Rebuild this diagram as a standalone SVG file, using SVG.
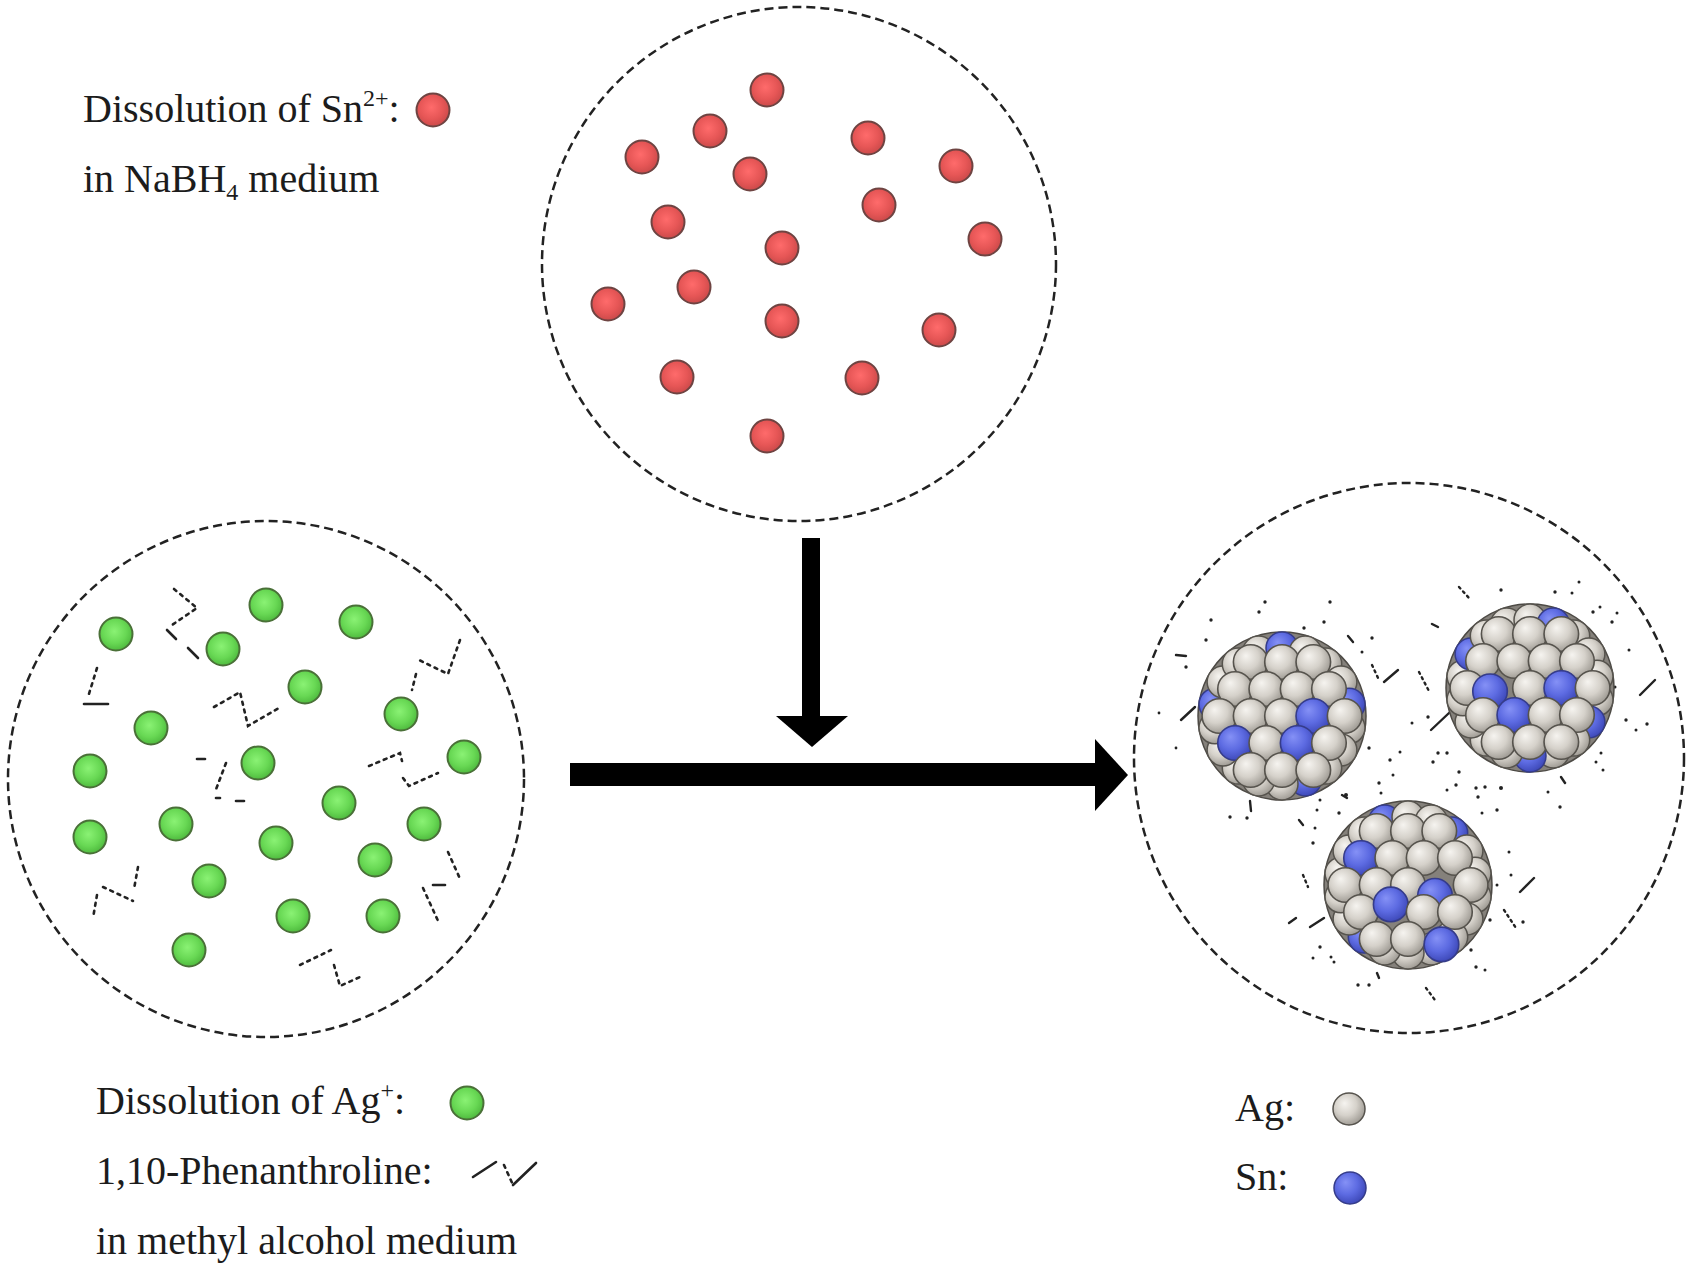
<svg xmlns="http://www.w3.org/2000/svg" xmlns:xlink="http://www.w3.org/1999/xlink" width="1694" height="1273" viewBox="0 0 1694 1273">
<style>
  .lbl { font-family: "Liberation Serif", "Times New Roman", serif; font-size: 40px; fill: #1c1c1c; }
  .sup { font-size: 24px; }
  .vessel { fill: none; stroke: #222; stroke-width: 2.5; stroke-dasharray: 9 5; }
  .zz { fill: none; stroke: #222; stroke-width: 2.6; stroke-dasharray: 3 5; stroke-linecap: round; }
  .zs { fill: none; stroke: #222; stroke-width: 2.6; stroke-linecap: round; }
  .lg { fill: none; stroke: #222; stroke-width: 2.4; stroke-linecap: round; }
  .lgd { fill: none; stroke: #222; stroke-width: 2.4; stroke-dasharray: 2 4; stroke-linecap: round; }
  .ld { fill: #222; }
  .arrow { fill: #000; }
</style>
<defs>
  <radialGradient id="gRed" cx="0.45" cy="0.42" r="0.6">
    <stop offset="0" stop-color="#ff6b6b"/>
    <stop offset="0.6" stop-color="#e65656"/>
    <stop offset="1" stop-color="#c94949"/>
  </radialGradient>
  <radialGradient id="gGreen" cx="0.45" cy="0.42" r="0.6">
    <stop offset="0" stop-color="#8af274"/>
    <stop offset="0.6" stop-color="#68d854"/>
    <stop offset="1" stop-color="#4db83d"/>
  </radialGradient>
  <radialGradient id="gAg" cx="0.42" cy="0.4" r="0.62" fx="0.36" fy="0.32">
    <stop offset="0" stop-color="#f6f4f0"/>
    <stop offset="0.55" stop-color="#d5d1ca"/>
    <stop offset="1" stop-color="#9e9a93"/>
  </radialGradient>
  <radialGradient id="gSn" cx="0.42" cy="0.4" r="0.62" fx="0.36" fy="0.32">
    <stop offset="0" stop-color="#8591f6"/>
    <stop offset="0.55" stop-color="#5d6be2"/>
    <stop offset="1" stop-color="#3d48b8"/>
  </radialGradient>
  <circle id="red" r="16.5" fill="url(#gRed)" stroke="#6e4442" stroke-width="2"/>
  <circle id="grn" r="16.5" fill="url(#gGreen)" stroke="#4a7038" stroke-width="2"/>
  <circle id="ag" r="16" fill="url(#gAg)" stroke="#56534d" stroke-width="1.5"/>
  <circle id="sn" r="16" fill="url(#gSn)" stroke="#353c8a" stroke-width="1.5"/>
</defs>

<rect width="1694" height="1273" fill="#ffffff"/>

<!-- Top vessel: Sn2+ in NaBH4 -->
<g id="sn-solution">
  <circle class="vessel" cx="799" cy="264" r="257"/>
  <use href="#red" x="767" y="90"/>
  <use href="#red" x="710" y="131"/>
  <use href="#red" x="642" y="157"/>
  <use href="#red" x="750" y="174"/>
  <use href="#red" x="868" y="138"/>
  <use href="#red" x="956" y="166"/>
  <use href="#red" x="879" y="205"/>
  <use href="#red" x="668" y="222"/>
  <use href="#red" x="985" y="239"/>
  <use href="#red" x="782" y="248"/>
  <use href="#red" x="694" y="287"/>
  <use href="#red" x="608" y="304"/>
  <use href="#red" x="782" y="321"/>
  <use href="#red" x="939" y="330"/>
  <use href="#red" x="677" y="377"/>
  <use href="#red" x="862" y="378"/>
  <use href="#red" x="767" y="436"/>
</g>

<!-- Left vessel: Ag+ with 1,10-phenanthroline in methanol -->
<g id="ag-solution">
  <circle class="vessel" cx="266" cy="779" r="258"/>
  <use href="#grn" x="116" y="634"/>
  <use href="#grn" x="266" y="605"/>
  <use href="#grn" x="356" y="622"/>
  <use href="#grn" x="223" y="649"/>
  <use href="#grn" x="305" y="687"/>
  <use href="#grn" x="151" y="728"/>
  <use href="#grn" x="401" y="714"/>
  <use href="#grn" x="90" y="771"/>
  <use href="#grn" x="258" y="763"/>
  <use href="#grn" x="464" y="757"/>
  <use href="#grn" x="339" y="803"/>
  <use href="#grn" x="90" y="837"/>
  <use href="#grn" x="176" y="824"/>
  <use href="#grn" x="276" y="843"/>
  <use href="#grn" x="424" y="824"/>
  <use href="#grn" x="375" y="860"/>
  <use href="#grn" x="209" y="881"/>
  <use href="#grn" x="293" y="916"/>
  <use href="#grn" x="383" y="916"/>
  <use href="#grn" x="189" y="950"/>
  <!-- phenanthroline fragments -->
  <polyline class="zz" points="174,589 197,608 172,625"/>
  <line class="zs" x1="167" y1="630" x2="176" y2="639"/>
  <line class="zs" x1="188" y1="648" x2="198" y2="658"/>
  <polyline class="zz" points="97,668 88,697"/>
  <line class="zs" x1="84" y1="704" x2="108" y2="704"/>
  <polyline class="zz" points="214,707 240,692 248,726 279,708"/>
  <line class="zs" x1="197" y1="759" x2="205" y2="759"/>
  <polyline class="zz" points="226,763 215,792"/>
  <line class="zs" x1="216" y1="798" x2="220" y2="798"/>
  <line class="zs" x1="236" y1="801" x2="244" y2="801"/>
  <polyline class="zz" points="460,640 448,674 417,659"/>
  <polyline class="zz" points="416,674 412,690"/>
  <polyline class="zz" points="369,766 400,753 402,761"/>
  <polyline class="zz" points="403,778 409,786 438,773"/>
  <polyline class="zz" points="448,852 461,881"/>
  <line class="zs" x1="433" y1="885" x2="445" y2="885"/>
  <polyline class="zz" points="423,888 439,923"/>
  <polyline class="zz" points="138,867 134,889"/>
  <polyline class="zz" points="103,887 133,901"/>
  <polyline class="zz" points="97,895 93,918"/>
  <polyline class="zz" points="300,965 331,950"/>
  <polyline class="zz" points="334,965 340,986 360,977"/>
</g>

<!-- Right vessel: Ag-Sn nanoparticles -->
<g id="product">
  <circle class="vessel" cx="1409" cy="758" r="275"/>
  <!-- ligand fragments -->
  <g id="ligands">
    <line class="lg" x1="1176" y1="655" x2="1186" y2="656"/>
    <line class="lg" x1="1181" y1="720" x2="1195" y2="707"/>
    <line class="lg" x1="1348" y1="636" x2="1353" y2="642"/>
    <line class="lgd" x1="1372" y1="665" x2="1379" y2="680"/>
    <line class="lg" x1="1384" y1="682" x2="1398" y2="670"/>
    <line class="lgd" x1="1419" y1="672" x2="1430" y2="693"/>
    <line class="lg" x1="1432" y1="624" x2="1438" y2="627"/>
    <line class="lgd" x1="1459" y1="587" x2="1469" y2="598"/>
    <line class="lg" x1="1640" y1="695" x2="1655" y2="680"/>
    <line class="lg" x1="1431" y1="730" x2="1449" y2="713"/>
    <line class="lg" x1="1561" y1="777" x2="1565" y2="783"/>
    <line class="lg" x1="1299" y1="820" x2="1303" y2="825"/>
    <line class="lgd" x1="1303" y1="875" x2="1308" y2="887"/>
    <line class="lg" x1="1520" y1="892" x2="1534" y2="878"/>
    <line class="lgd" x1="1504" y1="910" x2="1516" y2="928"/>
    <line class="lg" x1="1289" y1="923" x2="1296" y2="918"/>
    <line class="lg" x1="1310" y1="927" x2="1324" y2="918"/>
    <line class="lg" x1="1377" y1="973" x2="1379" y2="978"/>
    <line class="lgd" x1="1426" y1="988" x2="1435" y2="1000"/>
    <line class="lg" x1="1250" y1="801" x2="1251" y2="811"/>
    <line class="lg" x1="1342" y1="795" x2="1347" y2="798"/>
    <g class="ld">
      <circle cx="1206" cy="640" r="1.7"/><circle cx="1211" cy="620" r="1.7"/><circle cx="1186" cy="667" r="1.7"/>
      <circle cx="1159" cy="713" r="1.4"/><circle cx="1176" cy="748" r="1.4"/><circle cx="1265" cy="602" r="1.7"/>
      <circle cx="1259" cy="612" r="1.7"/><circle cx="1330" cy="602" r="1.7"/><circle cx="1324" cy="622" r="1.7"/>
      <circle cx="1304" cy="628" r="1.7"/><circle cx="1372" cy="638" r="1.7"/><circle cx="1362" cy="652" r="1.5"/>
      <circle cx="1501" cy="590" r="1.7"/><circle cx="1555" cy="592" r="1.7"/><circle cx="1572" cy="593" r="1.5"/>
      <circle cx="1579" cy="582" r="1.5"/><circle cx="1593" cy="612" r="1.7"/><circle cx="1600" cy="607" r="1.5"/>
      <circle cx="1612" cy="622" r="1.7"/><circle cx="1617" cy="613" r="1.5"/><circle cx="1629" cy="650" r="1.5"/>
      <circle cx="1615" cy="687" r="1.5"/><circle cx="1626" cy="720" r="1.7"/><circle cx="1636" cy="730" r="1.5"/>
      <circle cx="1647" cy="724" r="1.7"/><circle cx="1412" cy="723" r="1.5"/><circle cx="1428" cy="717" r="1.7"/>
      <circle cx="1369" cy="748" r="1.7"/><circle cx="1390" cy="760" r="1.7"/><circle cx="1400" cy="752" r="1.5"/>
      <circle cx="1433" cy="762" r="1.7"/><circle cx="1438" cy="753" r="1.7"/><circle cx="1447" cy="753" r="1.7"/>
      <circle cx="1459" cy="772" r="1.7"/><circle cx="1456" cy="785" r="1.7"/><circle cx="1447" cy="790" r="1.5"/>
      <circle cx="1476" cy="788" r="1.7"/><circle cx="1485" cy="787" r="1.7"/><circle cx="1501" cy="788" r="2"/>
      <circle cx="1393" cy="775" r="1.5"/><circle cx="1379" cy="783" r="1.7"/><circle cx="1381" cy="793" r="1.5"/>
      <circle cx="1478" cy="797" r="1.7"/><circle cx="1482" cy="813" r="1.5"/><circle cx="1497" cy="810" r="1.7"/>
      <circle cx="1548" cy="792" r="1.5"/><circle cx="1560" cy="807" r="1.7"/><circle cx="1596" cy="762" r="1.5"/>
      <circle cx="1601" cy="753" r="1.5"/><circle cx="1603" cy="770" r="1.5"/><circle cx="1346" cy="795" r="2"/>
      <circle cx="1320" cy="800" r="1.5"/><circle cx="1339" cy="813" r="1.7"/><circle cx="1317" cy="810" r="1.5"/>
      <circle cx="1230" cy="817" r="1.7"/><circle cx="1247" cy="818" r="1.7"/><circle cx="1313" cy="843" r="1.7"/>
      <circle cx="1315" cy="828" r="1.5"/><circle cx="1497" cy="885" r="1.5"/><circle cx="1511" cy="875" r="1.5"/>
      <circle cx="1490" cy="920" r="1.7"/><circle cx="1523" cy="922" r="1.7"/><circle cx="1320" cy="947" r="1.7"/>
      <circle cx="1313" cy="958" r="1.5"/><circle cx="1331" cy="957" r="1.5"/><circle cx="1334" cy="962" r="1.5"/>
      <circle cx="1471" cy="950" r="1.7"/><circle cx="1476" cy="967" r="1.7"/><circle cx="1485" cy="970" r="1.5"/>
      <circle cx="1358" cy="985" r="1.7"/><circle cx="1369" cy="985" r="1.7"/><circle cx="1509" cy="852" r="1.5"/>
    </g>
  </g>

  <!-- Cluster A -->
  <g id="cluster-a" transform="translate(1282,716)">
    <circle r="84" fill="#85817b" stroke="#4d4a45" stroke-width="1.5"/>
    <use href="#ag" x="67" y="11.8"/><use href="#ag" x="58.9" y="34"/><use href="#ag" x="43.7" y="52.1"/>
    <use href="#sn" x="23.3" y="63.9"/><use href="#ag" x="0" y="68"/><use href="#ag" x="-23.3" y="63.9"/>
    <use href="#ag" x="-43.7" y="52.1"/><use href="#ag" x="-58.9" y="34"/><use href="#ag" x="-67" y="11.8"/>
    <use href="#sn" x="-67" y="-11.8"/><use href="#ag" x="-58.9" y="-34"/><use href="#ag" x="-43.7" y="-52.1"/>
    <use href="#ag" x="-23.3" y="-63.9"/><use href="#sn" x="0" y="-68"/><use href="#ag" x="23.3" y="-63.9"/>
    <use href="#ag" x="43.7" y="-52.1"/><use href="#ag" x="58.9" y="-34"/><use href="#sn" x="67" y="-11.8"/>
    <g transform="scale(1.08)">
      <use href="#ag" x="-29" y="-50"/><use href="#ag" x="0" y="-50"/><use href="#ag" x="29" y="-50"/>
      <use href="#ag" x="-43.5" y="-25"/><use href="#ag" x="-14.5" y="-25"/><use href="#ag" x="14.5" y="-25"/><use href="#ag" x="43.5" y="-25"/>
      <use href="#ag" x="-58" y="0"/><use href="#ag" x="-29" y="0"/><use href="#ag" x="0" y="0"/><use href="#sn" x="29" y="0"/><use href="#ag" x="58" y="0"/>
      <use href="#sn" x="-43.5" y="25"/><use href="#ag" x="-14.5" y="25"/><use href="#sn" x="14.5" y="25"/><use href="#ag" x="43.5" y="25"/>
      <use href="#ag" x="-29" y="50"/><use href="#ag" x="0" y="50"/><use href="#ag" x="29" y="50"/>
    </g>
  </g>

  <!-- Cluster B -->
  <g id="cluster-b" transform="translate(1530,688)">
    <circle r="84" fill="#85817b" stroke="#4d4a45" stroke-width="1.5"/>
    <use href="#ag" x="67" y="11.8"/><use href="#sn" x="58.9" y="34"/><use href="#ag" x="43.7" y="52.1"/>
    <use href="#ag" x="23.3" y="63.9"/><use href="#sn" x="0" y="68"/><use href="#ag" x="-23.3" y="63.9"/>
    <use href="#ag" x="-43.7" y="52.1"/><use href="#ag" x="-58.9" y="34"/><use href="#ag" x="-67" y="11.8"/>
    <use href="#ag" x="-67" y="-11.8"/><use href="#sn" x="-58.9" y="-34"/><use href="#ag" x="-43.7" y="-52.1"/>
    <use href="#ag" x="-23.3" y="-63.9"/><use href="#ag" x="0" y="-68"/><use href="#sn" x="23.3" y="-63.9"/>
    <use href="#ag" x="43.7" y="-52.1"/><use href="#ag" x="58.9" y="-34"/><use href="#ag" x="67" y="-11.8"/>
    <g transform="scale(1.08)">
      <use href="#ag" x="-29" y="-50"/><use href="#ag" x="0" y="-50"/><use href="#ag" x="29" y="-50"/>
      <use href="#ag" x="-43.5" y="-25"/><use href="#ag" x="-14.5" y="-25"/><use href="#ag" x="14.5" y="-25"/><use href="#ag" x="43.5" y="-25"/>
      <use href="#ag" x="-58" y="0"/><use href="#sn" x="-37" y="3"/><use href="#ag" x="0" y="0"/><use href="#sn" x="29" y="0"/><use href="#ag" x="58" y="0"/>
      <use href="#ag" x="-43.5" y="25"/><use href="#sn" x="-14.5" y="25"/><use href="#ag" x="14.5" y="25"/><use href="#ag" x="43.5" y="25"/>
      <use href="#ag" x="-29" y="50"/><use href="#ag" x="0" y="50"/><use href="#ag" x="29" y="50"/>
    </g>
  </g>

  <!-- Cluster C -->
  <g id="cluster-c" transform="translate(1408,885)">
    <circle r="84" fill="#85817b" stroke="#4d4a45" stroke-width="1.5"/>
    <use href="#ag" x="67" y="11.8"/><use href="#ag" x="58.9" y="34"/><use href="#ag" x="43.7" y="52.1"/>
    <use href="#ag" x="23.3" y="63.9"/><use href="#ag" x="0" y="68"/><use href="#ag" x="-23.3" y="63.9"/>
    <use href="#sn" x="-43.7" y="52.1"/><use href="#ag" x="-58.9" y="34"/><use href="#ag" x="-67" y="11.8"/>
    <use href="#ag" x="-67" y="-11.8"/><use href="#ag" x="-58.9" y="-34"/><use href="#ag" x="-43.7" y="-52.1"/>
    <use href="#sn" x="-23.3" y="-63.9"/><use href="#ag" x="0" y="-68"/><use href="#ag" x="23.3" y="-63.9"/>
    <use href="#sn" x="43.7" y="-52.1"/><use href="#ag" x="58.9" y="-34"/><use href="#ag" x="67" y="-11.8"/>
    <g transform="scale(1.08)">
      <use href="#ag" x="-29" y="-50"/><use href="#ag" x="0" y="-50"/><use href="#ag" x="29" y="-50"/>
      <use href="#sn" x="-43.5" y="-25"/><use href="#ag" x="-14.5" y="-25"/><use href="#ag" x="14.5" y="-25"/><use href="#ag" x="43.5" y="-25"/>
      <use href="#ag" x="-58" y="0"/><use href="#ag" x="-29" y="0"/><use href="#ag" x="0" y="0"/><use href="#sn" x="25" y="10"/><use href="#ag" x="58" y="0"/>
      <use href="#ag" x="-43.5" y="25"/><use href="#sn" x="-16" y="18"/><use href="#ag" x="14.5" y="25"/><use href="#ag" x="43.5" y="25"/>
      <use href="#ag" x="-29" y="50"/><use href="#ag" x="0" y="50"/><use href="#sn" x="31" y="55"/>
    </g>
  </g>
</g>

<!-- Connectors -->
<g id="connectors">
  <rect class="arrow" x="802" y="538" width="18" height="180"/>
  <polygon class="arrow" points="776,716 848,716 812,747"/>
  <rect class="arrow" x="570" y="763" width="527" height="23"/>
  <polygon class="arrow" points="1095,739 1128,775 1095,811"/>
</g>

<!-- Legends -->
<g id="legend-sn">
  <text class="lbl" x="83" y="122">Dissolution of Sn<tspan class="sup" dy="-16">2+</tspan><tspan dy="16">:</tspan></text>
  <use href="#red" x="433" y="110"/>
  <text class="lbl" x="83" y="192">in NaBH<tspan class="sup" dy="8">4</tspan><tspan dy="-8"> medium</tspan></text>
</g>

<g id="legend-ag">
  <text class="lbl" x="96" y="1114">Dissolution of Ag<tspan class="sup" dy="-16">+</tspan><tspan dy="16">:</tspan></text>
  <use href="#grn" x="467" y="1103"/>
  <text class="lbl" x="96" y="1184">1,10-Phenanthroline:</text>
  <line class="zs" x1="473" y1="1177" x2="496" y2="1162"/>
  <line class="zz" x1="504" y1="1165" x2="513" y2="1185"/>
  <line class="zs" x1="513" y1="1185" x2="536" y2="1163"/>
  <text class="lbl" x="96" y="1254">in methyl alcohol medium</text>
</g>

<g id="legend-product">
  <text class="lbl" x="1235" y="1121">Ag:</text>
  <use href="#ag" x="1349" y="1109"/>
  <text class="lbl" x="1235" y="1190">Sn:</text>
  <use href="#sn" x="1350" y="1188"/>
</g>
</svg>
